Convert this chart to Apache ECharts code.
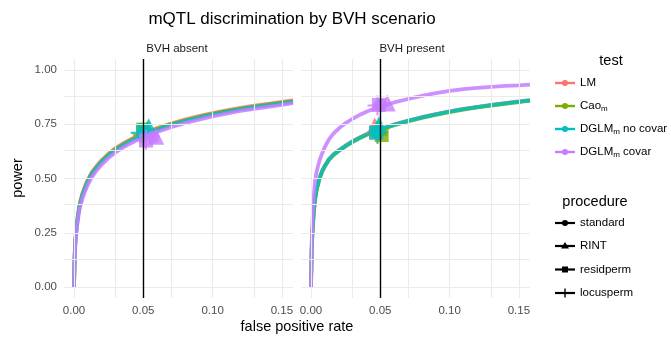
<!DOCTYPE html>
<html>
<head>
<meta charset="utf-8">
<script src="https://cdn.jsdelivr.net/npm/echarts@6/dist/echarts.min.js"></script>
<style>
html,body{margin:0;padding:0;background:#fff}
#main{width:671px;height:339px}
</style>
</head>
<body>
<div id="main"></div>
<script>
// false positive rate grid shared by every curve
var fpr = [0, 0.0005, 0.001, 0.002, 0.003, 0.004, 0.006, 0.008, 0.01, 0.013, 0.016, 0.02, 0.025, 0.03, 0.035,
	0.04, 0.045, 0.05, 0.06, 0.07, 0.08, 0.09, 0.10, 0.11, 0.12, 0.13, 0.14, 0.15, 0.158];

// power, BVH absent
var absLM    = [0, 0.15, 0.22, 0.29, 0.34, 0.38, 0.43, 0.465, 0.495, 0.53, 0.555, 0.585, 0.615, 0.64, 0.66, 0.678, 0.694, 0.708, 0.732, 0.753, 0.771, 0.787, 0.801, 0.814, 0.825, 0.835, 0.844, 0.853, 0.86];
var absCao   = [0, 0.145, 0.215, 0.285, 0.335, 0.375, 0.425, 0.46, 0.49, 0.525, 0.55, 0.58, 0.61, 0.635, 0.655, 0.673, 0.689, 0.703, 0.728, 0.749, 0.767, 0.783, 0.797, 0.81, 0.821, 0.831, 0.84, 0.849, 0.856];
var absDglmN = [0, 0.14, 0.21, 0.28, 0.33, 0.37, 0.42, 0.455, 0.486, 0.521, 0.546, 0.576, 0.606, 0.631, 0.651, 0.669, 0.685, 0.699, 0.724, 0.746, 0.764, 0.78, 0.794, 0.807, 0.818, 0.828, 0.837, 0.846, 0.853];
var absDglmC = [0, 0.13, 0.2, 0.27, 0.318, 0.357, 0.406, 0.441, 0.472, 0.508, 0.534, 0.564, 0.595, 0.62, 0.641, 0.659, 0.675, 0.689, 0.714, 0.736, 0.755, 0.771, 0.786, 0.799, 0.811, 0.821, 0.83, 0.839, 0.847];

// power, BVH present
var presLM    = [0, 0.17, 0.25, 0.35, 0.41, 0.45, 0.5, 0.535, 0.56, 0.59, 0.61, 0.63, 0.652, 0.672, 0.689, 0.704, 0.717, 0.728, 0.749, 0.767, 0.782, 0.796, 0.809, 0.82, 0.83, 0.839, 0.847, 0.855, 0.861];
var presCao   = [0, 0.165, 0.245, 0.345, 0.405, 0.445, 0.495, 0.53, 0.555, 0.585, 0.606, 0.626, 0.648, 0.668, 0.685, 0.7, 0.713, 0.724, 0.745, 0.763, 0.779, 0.793, 0.806, 0.817, 0.827, 0.836, 0.844, 0.852, 0.858];
var presDglmN = [0, 0.168, 0.248, 0.348, 0.408, 0.448, 0.498, 0.533, 0.558, 0.588, 0.608, 0.628, 0.65, 0.67, 0.687, 0.702, 0.715, 0.726, 0.747, 0.765, 0.781, 0.795, 0.808, 0.819, 0.829, 0.838, 0.846, 0.854, 0.86];
var presDglmC = [0, 0.2, 0.29, 0.42, 0.49, 0.53, 0.58, 0.615, 0.645, 0.68, 0.705, 0.73, 0.755, 0.775, 0.792, 0.807, 0.82, 0.832, 0.85, 0.866, 0.88, 0.893, 0.903, 0.911, 0.917, 0.922, 0.926, 0.929, 0.932];

// observed [fpr, power] at the 0.05 cutoff, order: standard, RINT, residperm, locusperm
var ptAbsLM    = [[0.050, 0.712], [0.052, 0.722], [0.050, 0.722], [0.049, 0.708]];
var ptAbsCao   = [[0.050, 0.708], [0.053, 0.728], [0.050, 0.725], [0.050, 0.700]];
var ptAbsDglmN = [[0.050, 0.705], [0.054, 0.738], [0.050, 0.718], [0.048, 0.710]];
var ptAbsDglmC = [[0.057, 0.690], [0.059, 0.695], [0.052, 0.675], [0.052, 0.680]];
var ptPresLM    = [[0.047, 0.715], [0.046, 0.742], [0.047, 0.712], [0.048, 0.715]];
var ptPresCao   = [[0.048, 0.712], [0.049, 0.735], [0.051, 0.700], [0.048, 0.705]];
var ptPresDglmN = [[0.048, 0.714], [0.049, 0.748], [0.047, 0.711], [0.048, 0.710]];
var ptPresDglmC = [[0.050, 0.838], [0.055, 0.848], [0.049, 0.838], [0.048, 0.836]];

var testNames = ['LM', 'Cao', 'DGLM no covar', 'DGLM covar'];
var procNames = ['standard', 'RINT', 'residperm', 'locusperm'];
var panelNames = ['BVH absent', 'BVH present'];
var xTicks = [0, 0.05, 0.10, 0.15];
var xMinor = [0.025, 0.075, 0.125];
var yTicks = [0, 0.25, 0.50, 0.75, 1.00];
var yMinor = [0.125, 0.375, 0.625, 0.875];
var cutoff = 0.05;

var curves = [[absLM, absCao, absDglmN, absDglmC], [presLM, presCao, presDglmN, presDglmC]];
var points = [[ptAbsLM, ptAbsCao, ptAbsDglmN, ptAbsDglmC], [ptPresLM, ptPresCao, ptPresDglmN, ptPresDglmC]];

var testColors = ['#F8766D', '#7CAE00', '#00BFC4', '#C77CFF'];
var FONT = 'Liberation Sans';
var plusPath = 'path://M9,0L11,0L11,9L20,9L20,11L11,11L11,20L9,20L9,11L0,11L0,9L9,9Z';
var procSymbols = ['circle', 'triangle', 'rect', plusPath];
var procSizes = [13, 17, 14, 20];

var chart = echarts.init(document.getElementById('main'));

function pairs(ys) {
	return fpr.map(function (x, i) { return [x, ys[i]]; });
}

var series = [];
// panel grid lines, drawn through the axes
[0, 1].forEach(function (g) {
	var lines = xTicks.concat(xMinor).map(function (v) { return { xAxis: v }; })
		.concat(yTicks.concat(yMinor).map(function (v) { return { yAxis: v }; }));
	series.push({
		type: 'line', xAxisIndex: g, yAxisIndex: g, data: [], z: 0, silent: true,
		markLine: {
			silent: true, symbol: 'none', animation: false, label: { show: false },
			lineStyle: { color: '#ebebeb', width: 1.1, type: 'solid' },
			data: lines
		}
	});
});
// curves
[0, 1].forEach(function (g) {
	curves[g].forEach(function (ys, t) {
		series.push({
			name: testNames[t], type: 'line', xAxisIndex: g, yAxisIndex: g,
			data: pairs(ys), showSymbol: false, symbol: 'none', silent: true, z: 2,
			lineStyle: { color: testColors[t], width: 3.8, opacity: 0.85 }
		});
	});
});
// cutoff line
[0, 1].forEach(function (g) {
	series.push({
		type: 'line', xAxisIndex: g, yAxisIndex: g, data: [], z: 3, silent: true,
		markLine: {
			silent: true, symbol: 'none', animation: false, label: { show: false },
			lineStyle: { color: '#000', width: 1.4, type: 'solid' },
			data: [{ xAxis: cutoff }]
		}
	});
});
// points
[0, 1].forEach(function (g) {
	points[g].forEach(function (pts, t) {
		series.push({
			name: testNames[t], type: 'scatter', xAxisIndex: g, yAxisIndex: g, z: 4, silent: true,
			data: pts.map(function (p, k) {
				return { value: p, symbol: procSymbols[k], symbolSize: procSizes[k] };
			}),
			itemStyle: { color: testColors[t], opacity: 0.8 }
		});
	});
});

var tickLabel = { color: '#4d4d4d', fontSize: 11.5, fontFamily: FONT };

// legend and texts
var graphic = [
	{ type: 'text', x: 292, y: 19, style: { text: 'mQTL discrimination by BVH scenario', align: 'center', verticalAlign: 'middle', fontSize: 17, fontFamily: FONT, fill: '#000' } },
	{ type: 'text', x: 177, y: 49, style: { text: panelNames[0], align: 'center', verticalAlign: 'middle', fontSize: 11.5, fontFamily: FONT, fill: '#1a1a1a' } },
	{ type: 'text', x: 412, y: 49, style: { text: panelNames[1], align: 'center', verticalAlign: 'middle', fontSize: 11.5, fontFamily: FONT, fill: '#1a1a1a' } },
	{ type: 'text', x: 297, y: 327, style: { text: 'false positive rate', align: 'center', verticalAlign: 'middle', fontSize: 14.5, fontFamily: FONT, fill: '#000' } },
	{ type: 'text', x: 18, y: 178, rotation: Math.PI / 2, style: { text: 'power', align: 'center', verticalAlign: 'middle', fontSize: 14.5, fontFamily: FONT, fill: '#000' } },
	{ type: 'text', x: 611, y: 61, style: { text: 'test', align: 'center', verticalAlign: 'middle', fontSize: 14.5, fontFamily: FONT, fill: '#000' } },
	{ type: 'text', x: 595, y: 202, style: { text: 'procedure', align: 'center', verticalAlign: 'middle', fontSize: 14.5, fontFamily: FONT, fill: '#000' } }
];
var richLabel = {
	n: { fontSize: 11.5, fontFamily: FONT, fill: '#000', lineHeight: 14 },
	s: { fontSize: 8, fontFamily: FONT, fill: '#000', lineHeight: 8, verticalAlign: 'bottom' }
};
var testLabels = ['{n|LM}', '{n|Cao}{s|m}', '{n|DGLM}{s|m}{n| no covar}', '{n|DGLM}{s|m}{n| covar}'];
var testY = [83, 106, 129, 152];
testNames.forEach(function (nm, t) {
	var y = testY[t];
	graphic.push({ type: 'line', shape: { x1: 555, y1: y, x2: 575, y2: y }, style: { stroke: testColors[t], lineWidth: 2.4 } });
	graphic.push({ type: 'circle', shape: { cx: 565, cy: y, r: 3 }, style: { fill: testColors[t] } });
	graphic.push({ type: 'text', x: 580, y: y, style: { text: testLabels[t], rich: richLabel, verticalAlign: 'middle', align: 'left' } });
});
var procY = [223, 246, 269.5, 293];
procNames.forEach(function (nm, k) {
	var y = procY[k];
	graphic.push({ type: 'line', shape: { x1: 555, y1: y, x2: 575, y2: y }, style: { stroke: '#000', lineWidth: 2.2 } });
	if (k === 0) graphic.push({ type: 'circle', shape: { cx: 565, cy: y, r: 3 }, style: { fill: '#000' } });
	if (k === 1) graphic.push({ type: 'polygon', shape: { points: [[565, y - 4], [569, y + 2.5], [561, y + 2.5]] }, style: { fill: '#000' } });
	if (k === 2) graphic.push({ type: 'rect', shape: { x: 562, y: y - 3, width: 6, height: 6 }, style: { fill: '#000' } });
	if (k === 3) graphic.push({ type: 'line', shape: { x1: 565, y1: y - 4.5, x2: 565, y2: y + 4.5 }, style: { stroke: '#000', lineWidth: 1.4 } });
	graphic.push({ type: 'text', x: 580, y: y, style: { text: nm, verticalAlign: 'middle', align: 'left', fontSize: 11.5, fontFamily: FONT, fill: '#000' } });
});

var option = {
	animation: false,
	backgroundColor: '#fff',
	grid: [
		{ left: 64, top: 59, width: 229, height: 239 },
		{ left: 301, top: 59, width: 229, height: 239 }
	],
	xAxis: [0, 1].map(function (g) {
		return {
			type: 'value', gridIndex: g, min: -0.0072, max: 0.158,
			axisLine: { show: false }, axisTick: { show: false }, splitLine: { show: false },
			axisLabel: Object.assign({ customValues: xTicks, margin: 7, formatter: function (v) { return v.toFixed(2); } }, tickLabel)
		};
	}),
	yAxis: [0, 1].map(function (g) {
		return {
			type: 'value', gridIndex: g, min: -0.05, max: 1.05,
			axisLine: { show: false }, axisTick: { show: false }, splitLine: { show: false },
			axisLabel: Object.assign({ show: g === 0, customValues: yTicks, margin: 7, formatter: function (v) { return v.toFixed(2); } }, tickLabel)
		};
	}),
	series: series,
	graphic: graphic
};
chart.setOption(option);
</script>
</body>
</html>
